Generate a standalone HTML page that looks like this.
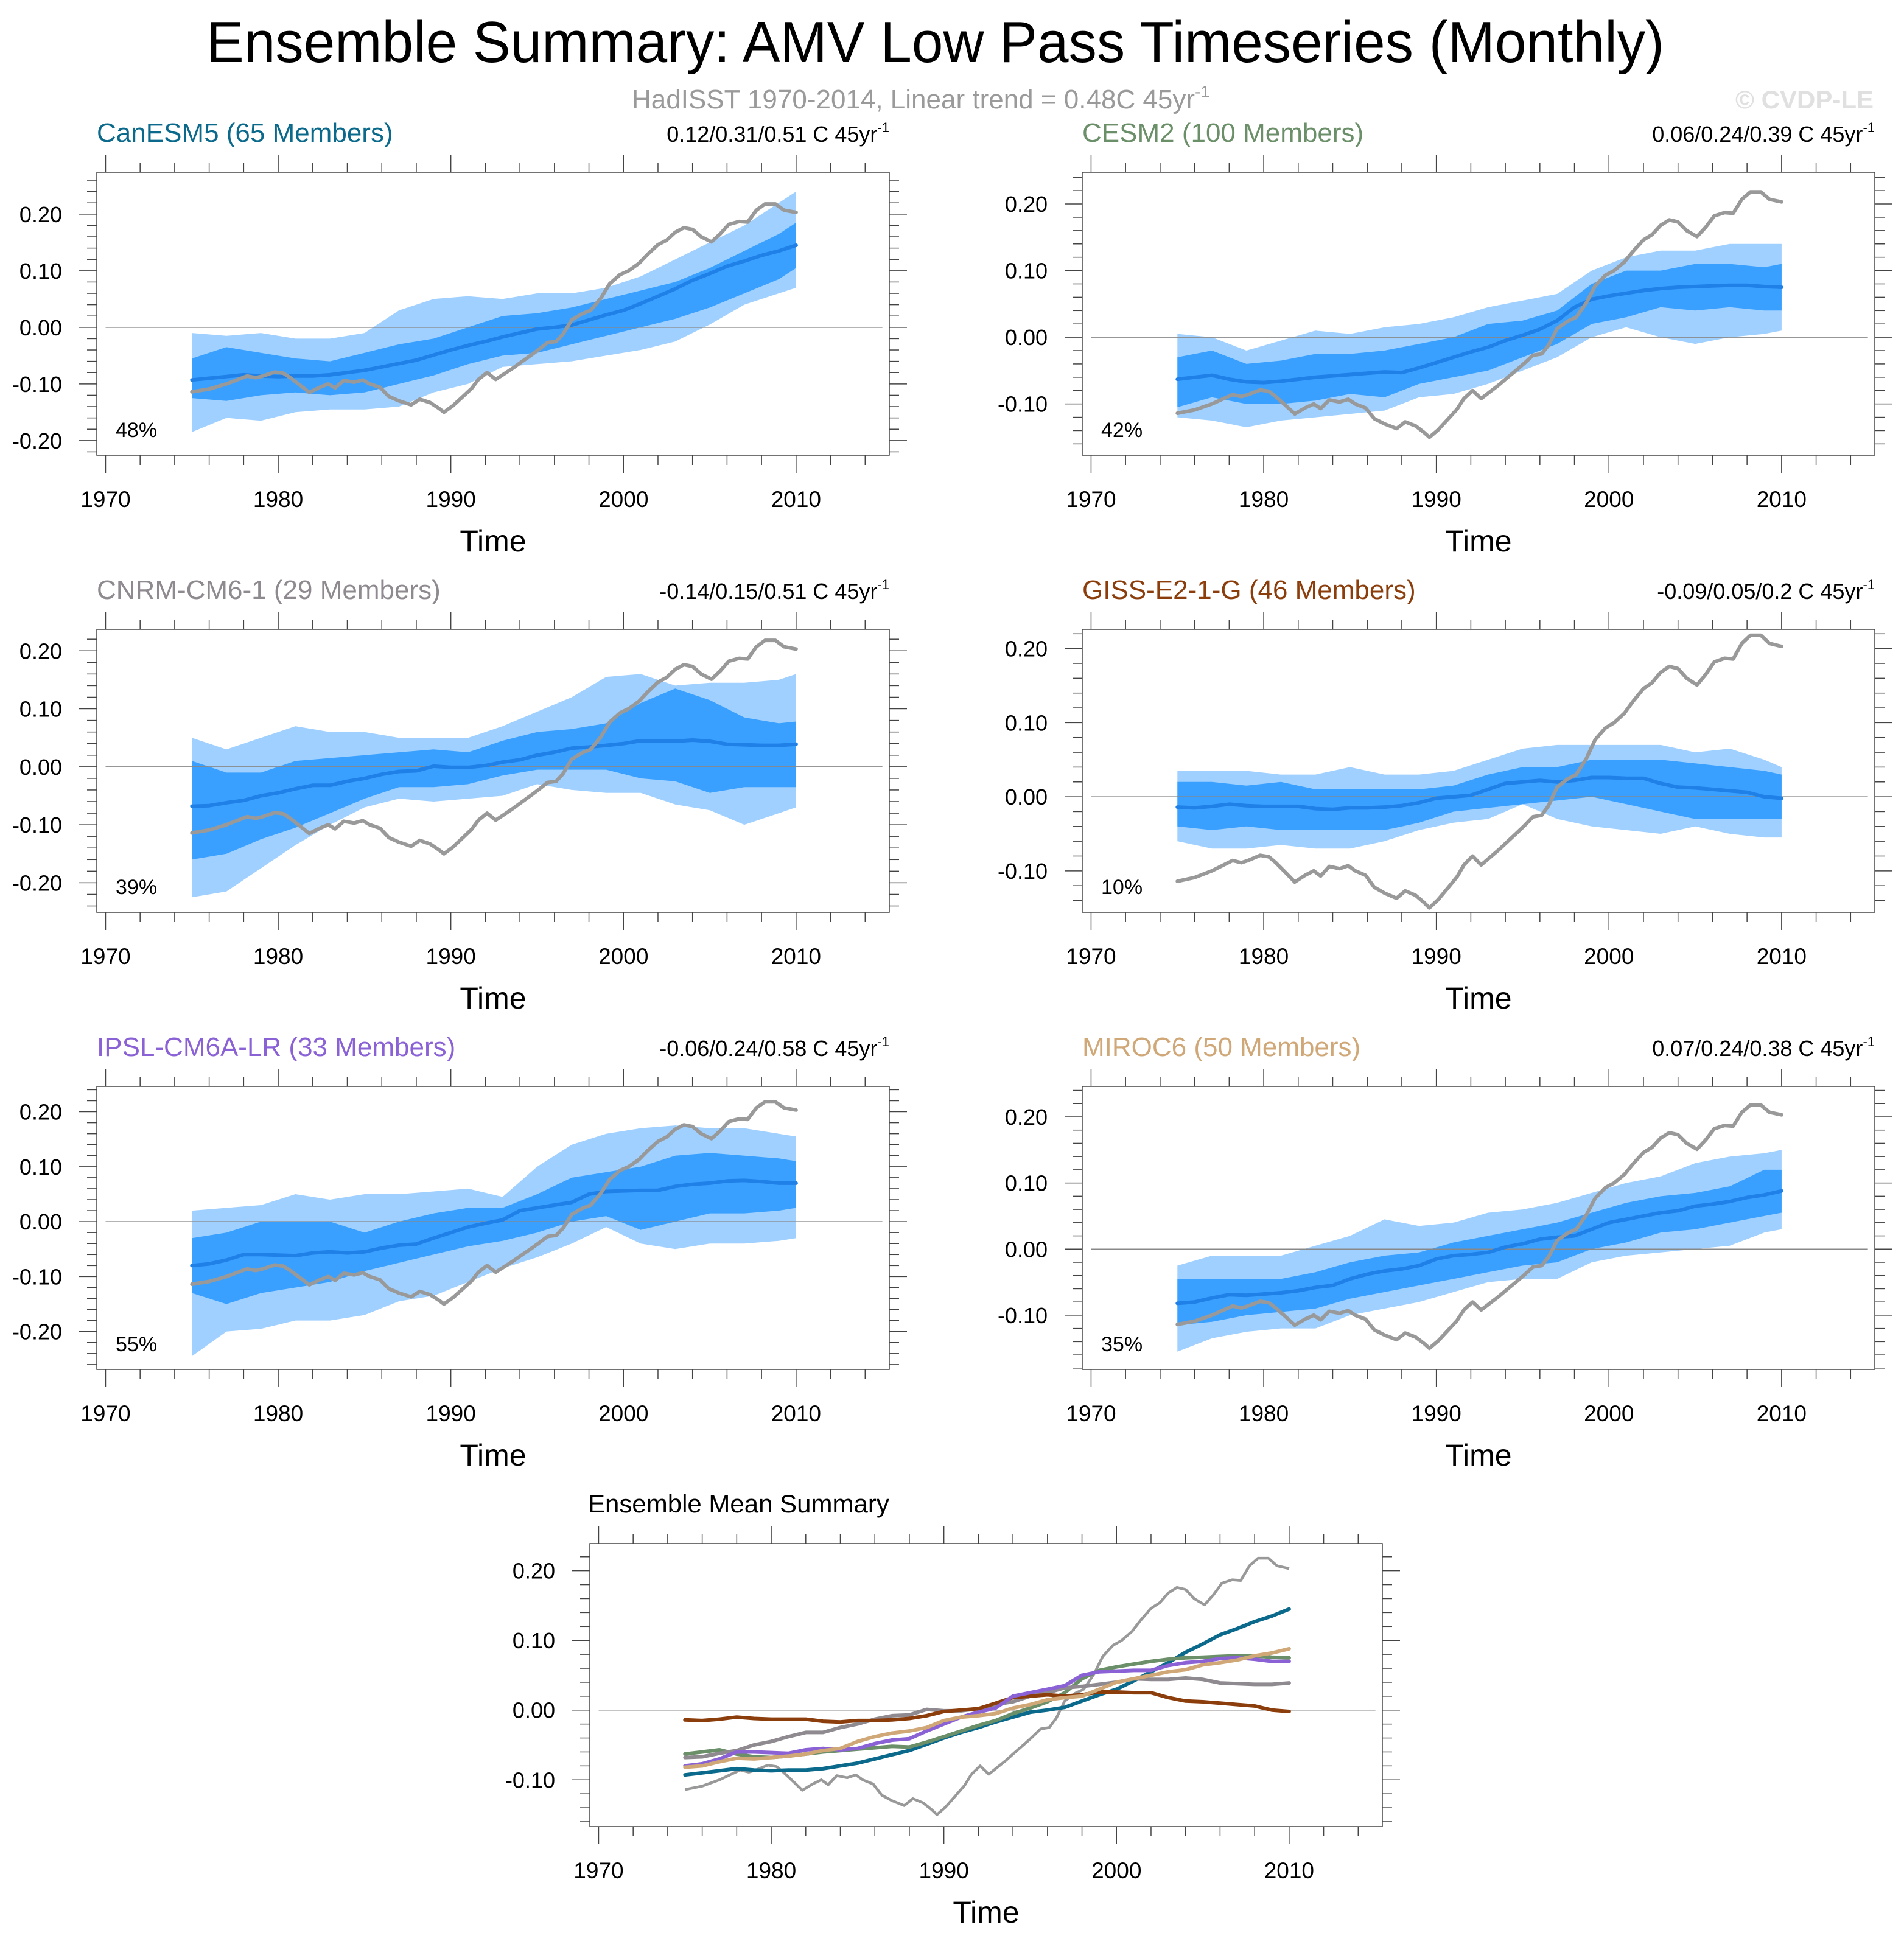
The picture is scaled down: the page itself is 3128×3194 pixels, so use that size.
<!DOCTYPE html>
<html>
<head>
<meta charset="utf-8">
<style>
html,body{margin:0;padding:0;background:#fff;}
svg{display:block;font-family:"Liberation Sans",Arial,sans-serif;}
</style>
</head>
<body>
<svg id="chart" xmlns="http://www.w3.org/2000/svg" width="3128" height="3194" viewBox="0 0 3128 3194">
  <rect x="0" y="0" width="3128" height="3194" fill="#fff"/>
  <text x="339" y="102" font-size="96" textLength="2395" lengthAdjust="spacingAndGlyphs" fill="#000">Ensemble Summary: AMV Low Pass Timeseries (Monthly)</text>
  <text x="1038" y="178" font-size="44" fill="#9a9a9a">HadISST 1970-2014, Linear trend = 0.48C 45yr<tspan font-size="28" dy="-18">-1</tspan></text>
  <text x="3078" y="178" font-size="42" font-weight="bold" fill="#e0e0e0" text-anchor="end">© CVDP-LE</text>
</svg>
<script>
// ---------- DATA ----------
const obsYears = [1975.0,1976.0,1977.0,1977.6,1978.2,1978.7,1979.1,1979.8,1980.3,1980.7,1981.3,1981.8,1982.4,1982.9,1983.3,1983.8,1984.4,1984.9,1985.3,1985.9,1986.4,1987.0,1987.7,1988.2,1988.8,1989.3,1989.6,1990.1,1990.6,1991.2,1991.6,1992.1,1992.6,1993.1,1993.6,1994.1,1994.7,1995.1,1995.6,1996.1,1996.5,1997.0,1997.6,1998.1,1998.7,1999.2,1999.8,2000.3,2000.9,2001.4,2002.0,2002.5,2003.0,2003.5,2004.0,2004.5,2005.1,2005.6,2006.1,2006.7,2007.2,2007.7,2008.2,2008.8,2009.3,2010.0];
const obsValues = [-0.114,-0.109,-0.100,-0.093,-0.086,-0.089,-0.086,-0.079,-0.081,-0.089,-0.103,-0.115,-0.106,-0.100,-0.107,-0.094,-0.097,-0.093,-0.100,-0.106,-0.122,-0.130,-0.137,-0.127,-0.133,-0.143,-0.150,-0.139,-0.125,-0.108,-0.092,-0.080,-0.092,-0.082,-0.072,-0.061,-0.048,-0.039,-0.027,-0.025,-0.012,0.013,0.024,0.030,0.052,0.077,0.093,0.100,0.113,0.129,0.146,0.154,0.168,0.176,0.173,0.160,0.151,0.165,0.182,0.187,0.186,0.207,0.218,0.218,0.207,0.203];

const meanYears = [1975,1976,1977,1978,1979,1980,1981,1982,1983,1984,1985,1986,1987,1988,1989,1990,1991,1992,1993,1994,1995,1996,1997,1998,1999,2000,2001,2002,2003,2004,2005,2006,2007,2008,2009,2010];
const meanCanESM5 = [-0.093,-0.090,-0.087,-0.084,-0.086,-0.087,-0.086,-0.086,-0.084,-0.080,-0.076,-0.070,-0.064,-0.058,-0.049,-0.040,-0.032,-0.025,-0.017,-0.010,-0.003,0.000,0.004,0.013,0.022,0.030,0.042,0.055,0.068,0.083,0.095,0.108,0.117,0.127,0.135,0.145];
const meanCESM2 = [-0.063,-0.060,-0.057,-0.063,-0.067,-0.068,-0.066,-0.063,-0.060,-0.058,-0.056,-0.054,-0.052,-0.053,-0.046,-0.038,-0.030,-0.022,-0.015,-0.005,0.003,0.012,0.025,0.045,0.057,0.062,0.066,0.070,0.073,0.075,0.076,0.077,0.078,0.078,0.076,0.075];
const meanCNRM = [-0.068,-0.067,-0.062,-0.058,-0.050,-0.045,-0.038,-0.032,-0.032,-0.025,-0.020,-0.013,-0.008,-0.007,0.001,-0.001,-0.001,0.002,0.008,0.012,0.020,0.025,0.032,0.034,0.037,0.040,0.045,0.044,0.044,0.046,0.044,0.039,0.038,0.037,0.037,0.039];
const meanGISS = [-0.014,-0.015,-0.013,-0.010,-0.012,-0.013,-0.013,-0.013,-0.016,-0.017,-0.015,-0.015,-0.014,-0.012,-0.008,-0.002,0.000,0.002,0.010,0.018,0.020,0.022,0.020,0.022,0.026,0.026,0.025,0.025,0.018,0.013,0.012,0.010,0.008,0.006,0.000,-0.002];
const meanIPSL = [-0.080,-0.077,-0.070,-0.060,-0.060,-0.061,-0.062,-0.057,-0.055,-0.057,-0.055,-0.048,-0.043,-0.041,-0.030,-0.020,-0.010,-0.003,0.003,0.020,0.025,0.030,0.035,0.050,0.055,0.056,0.057,0.057,0.064,0.068,0.070,0.074,0.075,0.073,0.070,0.070];
const meanMIROC = [-0.082,-0.080,-0.074,-0.069,-0.070,-0.068,-0.066,-0.063,-0.058,-0.055,-0.045,-0.038,-0.033,-0.030,-0.025,-0.015,-0.010,-0.008,-0.005,0.003,0.008,0.015,0.018,0.020,0.030,0.040,0.045,0.050,0.055,0.058,0.065,0.068,0.072,0.078,0.082,0.088];

const bandYears = [1975,1977,1979,1981,1983,1985,1987,1989,1991,1993,1995,1997,1999,2001,2003,2005,2007,2009,2010];
const canOuterTop = [-0.01,-0.015,-0.01,-0.02,-0.02,-0.01,0.03,0.05,0.055,0.05,0.06,0.06,0.07,0.09,0.12,0.15,0.18,0.22,0.24];
const canOuterBot = [-0.185,-0.16,-0.165,-0.15,-0.145,-0.145,-0.14,-0.115,-0.1,-0.07,-0.065,-0.06,-0.05,-0.04,-0.025,0.005,0.04,0.06,0.07];
const canInnerTop = [-0.055,-0.035,-0.045,-0.055,-0.06,-0.045,-0.03,-0.02,0.0,0.02,0.025,0.035,0.05,0.065,0.08,0.105,0.135,0.165,0.185];
const canInnerBot = [-0.125,-0.13,-0.12,-0.115,-0.12,-0.115,-0.1,-0.085,-0.065,-0.05,-0.045,-0.03,-0.015,0.0,0.015,0.035,0.06,0.085,0.105];

const cesmOuterTop = [0.005,0.0,-0.02,-0.005,0.01,0.005,0.015,0.02,0.03,0.045,0.055,0.065,0.1,0.12,0.13,0.13,0.14,0.14,0.14];
const cesmOuterBot = [-0.12,-0.125,-0.135,-0.125,-0.12,-0.115,-0.11,-0.09,-0.085,-0.07,-0.05,-0.03,0.0,0.015,0.0,-0.01,0.0,0.005,0.01];
const cesmInnerTop = [-0.03,-0.02,-0.04,-0.035,-0.025,-0.025,-0.02,-0.01,0.0,0.02,0.025,0.04,0.08,0.1,0.1,0.11,0.11,0.105,0.11];
const cesmInnerBot = [-0.105,-0.09,-0.1,-0.1,-0.095,-0.085,-0.09,-0.07,-0.06,-0.05,-0.03,-0.01,0.02,0.03,0.045,0.04,0.045,0.04,0.04];

const cnrmOuterTop = [0.05,0.03,0.05,0.07,0.06,0.06,0.05,0.05,0.05,0.07,0.095,0.12,0.155,0.16,0.14,0.145,0.145,0.15,0.16];
const cnrmOuterBot = [-0.225,-0.215,-0.175,-0.135,-0.1,-0.07,-0.055,-0.06,-0.055,-0.05,-0.03,-0.04,-0.045,-0.045,-0.065,-0.075,-0.1,-0.08,-0.07];
const cnrmInnerTop = [0.01,-0.01,-0.01,0.01,0.015,0.02,0.025,0.03,0.025,0.045,0.06,0.065,0.075,0.11,0.135,0.115,0.085,0.075,0.078];
const cnrmInnerBot = [-0.16,-0.15,-0.125,-0.105,-0.08,-0.055,-0.035,-0.035,-0.03,-0.015,-0.005,-0.005,-0.005,-0.02,-0.025,-0.045,-0.035,-0.035,-0.035];

const gissOuterTop = [0.035,0.035,0.035,0.03,0.03,0.04,0.03,0.03,0.035,0.05,0.065,0.07,0.07,0.07,0.07,0.06,0.065,0.05,0.04];
const gissOuterBot = [-0.06,-0.07,-0.07,-0.065,-0.07,-0.07,-0.06,-0.045,-0.035,-0.03,-0.01,-0.03,-0.04,-0.045,-0.05,-0.04,-0.05,-0.055,-0.055];
const gissInnerTop = [0.02,0.02,0.015,0.02,0.01,0.01,0.01,0.01,0.015,0.03,0.04,0.04,0.05,0.05,0.05,0.045,0.04,0.035,0.03];
const gissInnerBot = [-0.04,-0.045,-0.04,-0.045,-0.045,-0.045,-0.045,-0.035,-0.02,-0.015,-0.01,-0.005,0.0,-0.01,-0.02,-0.03,-0.03,-0.03,-0.03];

const ipslOuterTop = [0.02,0.025,0.03,0.05,0.04,0.05,0.05,0.055,0.06,0.045,0.1,0.14,0.16,0.17,0.175,0.17,0.17,0.16,0.155];
const ipslOuterBot = [-0.245,-0.2,-0.195,-0.18,-0.18,-0.17,-0.145,-0.135,-0.11,-0.085,-0.065,-0.04,-0.01,-0.04,-0.05,-0.04,-0.04,-0.035,-0.03];
const ipslInnerTop = [-0.03,-0.02,0.0,0.0,0.0,-0.02,0.0,0.015,0.025,0.025,0.05,0.08,0.09,0.1,0.12,0.125,0.12,0.115,0.11];
const ipslInnerBot = [-0.13,-0.15,-0.13,-0.12,-0.11,-0.09,-0.075,-0.06,-0.045,-0.035,-0.02,0.0,0.01,-0.015,0.0,0.015,0.015,0.02,0.025];

const mirocOuterTop = [-0.025,-0.01,-0.01,-0.01,0.005,0.02,0.045,0.035,0.04,0.055,0.06,0.07,0.085,0.1,0.11,0.13,0.14,0.145,0.15];
const mirocOuterBot = [-0.155,-0.135,-0.125,-0.12,-0.12,-0.1,-0.09,-0.08,-0.065,-0.05,-0.045,-0.045,-0.02,-0.01,-0.005,0.0,0.005,0.025,0.03];
const mirocInnerTop = [-0.045,-0.045,-0.045,-0.045,-0.035,-0.02,-0.01,-0.005,0.01,0.02,0.03,0.04,0.055,0.07,0.08,0.085,0.095,0.12,0.12];
const mirocInnerBot = [-0.115,-0.11,-0.1,-0.095,-0.09,-0.075,-0.065,-0.055,-0.045,-0.035,-0.025,-0.02,0.0,0.01,0.025,0.03,0.04,0.05,0.055];

const modelNames = ["CanESM5","CESM2","CNRM-CM6-1","GISS-E2-1-G","IPSL-CM6A-LR","MIROC6"];
const modelMembers = [65,100,29,46,33,50];
const modelTrends = ["0.12/0.31/0.51","0.06/0.24/0.39","-0.14/0.15/0.51","-0.09/0.05/0.2","-0.06/0.24/0.58","0.07/0.24/0.38"];
const modelPercents = ["48%","42%","39%","10%","55%","35%"];
const xTickLabels = ["1970","1980","1990","2000","2010"];

// ---------- LAYOUT / STYLE ----------
const NS = "http://www.w3.org/2000/svg";
const svg = document.getElementById("chart");
const modelColors = ["#0b6a8c","#6b8f68","#8f8a8f","#8b3d0c","#8a62d6","#d0a878"];
const means = [meanCanESM5,meanCESM2,meanCNRM,meanGISS,meanIPSL,meanMIROC];
const bands = [
  [canOuterTop,canOuterBot,canInnerTop,canInnerBot],
  [cesmOuterTop,cesmOuterBot,cesmInnerTop,cesmInnerBot],
  [cnrmOuterTop,cnrmOuterBot,cnrmInnerTop,cnrmInnerBot],
  [gissOuterTop,gissOuterBot,gissInnerTop,gissInnerBot],
  [ipslOuterTop,ipslOuterBot,ipslInnerTop,ipslInnerBot],
  [mirocOuterTop,mirocOuterBot,mirocInnerTop,mirocInnerBot]
];
const panelBoxes = [
  {x:159,y:283,top:0.274,bot:-0.226},
  {x:1778,y:283,top:0.2475,bot:-0.177},
  {x:159,y:1034,top:0.237,bot:-0.251},
  {x:1778,y:1034,top:0.226,bot:-0.156},
  {x:159,y:1785,top:0.246,bot:-0.269},
  {x:1778,y:1785,top:0.246,bot:-0.182}
];
const BW = 1302, BH = 465, XMIN = 1969.49, XMAX = 2015.4;

function el(tag, attrs, parent){
  const e = document.createElementNS(NS, tag);
  for (const k in attrs) e.setAttribute(k, attrs[k]);
  (parent||svg).appendChild(e);
  return e;
}

function makeAxes(box){
  const sx = v => box.x + (v - XMIN) / (XMAX - XMIN) * BW;
  const sy = v => box.y + (box.top - v) / (box.top - box.bot) * BH;
  return {sx, sy};
}

function linePath(xs, ys, sx, sy){
  return xs.map((x,i)=>(i?"L":"M")+sx(x).toFixed(1)+","+sy(ys[i]).toFixed(1)).join(" ");
}
function bandPath(xs, top, bot, sx, sy){
  let d = xs.map((x,i)=>(i?"L":"M")+sx(x).toFixed(1)+","+sy(top[i]).toFixed(1)).join(" ");
  for (let i = xs.length-1; i >= 0; i--) d += " L"+sx(xs[i]).toFixed(1)+","+sy(bot[i]).toFixed(1);
  return d + " Z";
}

function drawFrame(g, box, ax){
  const {sx, sy} = ax;
  const frame = el("rect",{x:box.x,y:box.y,width:BW,height:BH,fill:"none",stroke:"#444","stroke-width":1.5},g);
  
  
  for (let yr = 1970; yr <= 2014; yr += 2){
    const major = yr % 10 === 0;
    const len = major ? 29 : 16;
    const x = sx(yr);
    const t1 = el("line",{x1:x,y1:box.y,x2:x,y2:box.y-len,stroke:"#444","stroke-width":1.5},g);
    
    
    const t2 = el("line",{x1:x,y1:box.y+BH,x2:x,y2:box.y+BH+len,stroke:"#444","stroke-width":1.5},g);
    
    
  }
  xTickLabels.forEach(lbl=>{
    const t = el("text",{x:sx(+lbl),y:box.y+BH+85,"font-size":37,"text-anchor":"middle",fill:"#000"},g);
    t.textContent = lbl;
    
    
  });
  const lo = Math.ceil(box.bot/0.02 - 1e-6), hi = Math.floor(box.top/0.02 + 1e-6);
  for (let k = lo; k <= hi; k++){
    const v = k*0.02;
    const major = k % 5 === 0;
    const len = major ? 29 : 16;
    const y = sy(v);
    const t1 = el("line",{x1:box.x,y1:y,x2:box.x-len,y2:y,stroke:"#444","stroke-width":1.5},g);
    
    
    const t2 = el("line",{x1:box.x+BW,y1:y,x2:box.x+BW+len,y2:y,stroke:"#444","stroke-width":1.5},g);
    
    
    if (major){
      const t = el("text",{x:box.x-57,y:y+13,"font-size":36,"text-anchor":"end",fill:"#000"},g);
      t.textContent = (Math.abs(v)<1e-9 ? 0 : v).toFixed(2);
      
      
    }
  }
  const zl = el("line",{x1:sx(1970),y1:sy(0),x2:sx(2015),y2:sy(0),stroke:"#888","stroke-width":1.5},g);
  
  
  const tt = el("text",{x:box.x+BW/2,y:box.y+BH+158,"font-size":50,"text-anchor":"middle",fill:"#000"},g);
  tt.textContent = "Time";
  
  
}

// ---------- MODEL PANELS ----------
modelNames.forEach((name, i)=>{
  const box = panelBoxes[i];
  const ax = makeAxes(box);
  const g = el("g",{});
  
  
  const [ot, ob, it, ib] = bands[i];
  const outer = el("path",{d:bandPath(bandYears, ot, ob, ax.sx, ax.sy),fill:"#a0d0ff"},g);
  
  
  const inner = el("path",{d:bandPath(bandYears, it, ib, ax.sx, ax.sy),fill:"#39a0ff"},g);
  
  
  drawFrame(g, box, ax);
  const m = el("path",{d:linePath(meanYears, means[i], ax.sx, ax.sy),fill:"none",stroke:"#1f80e8","stroke-width":6,"stroke-linejoin":"round","stroke-linecap":"round"},g);
  
  
  const o = el("path",{d:linePath(obsYears, obsValues, ax.sx, ax.sy),fill:"none",stroke:"#999","stroke-width":6,"stroke-linejoin":"round","stroke-linecap":"round"},g);
  
  
  const ti = el("text",{x:box.x,y:box.y-50,"font-size":44,fill:modelColors[i]},g);
  ti.textContent = name + " (" + modelMembers[i] + " Members)";
  
  
  const tr = el("text",{x:box.x+BW,y:box.y-50,"font-size":36,"text-anchor":"end",fill:"#000"},g);
  tr.textContent = modelTrends[i] + " C 45yr";
  const sup = el("tspan",{"font-size":22,dy:-16},tr);
  sup.textContent = "-1";
  
  
  const pc = el("text",{x:box.x+31,y:box.y+BH-30,"font-size":34,fill:"#000"},g);
  pc.textContent = modelPercents[i];
  
  
});

// ---------- SUMMARY PANEL ----------
(function(){
  const box = {x:969,y:2536,top:0.239,bot:-0.167};
  const ax = makeAxes(box);
  const g = el("g",{});
  
  
  drawFrame(g, box, ax);
  const o = el("path",{d:linePath(obsYears, obsValues, ax.sx, ax.sy),fill:"none",stroke:"#999","stroke-width":4.5,"stroke-linejoin":"round"},g);
  
  
  means.forEach((arr, i)=>{
    const p = el("path",{d:linePath(meanYears, arr, ax.sx, ax.sy),fill:"none",stroke:modelColors[i],"stroke-width":6,"stroke-linejoin":"round","stroke-linecap":"round"},g);
    
    
  });
  const t = el("text",{x:box.x-3,y:box.y-51,"font-size":42,fill:"#000"},g);
  t.textContent = "Ensemble Mean Summary";
  
  
})();
</script>
</body>
</html>
